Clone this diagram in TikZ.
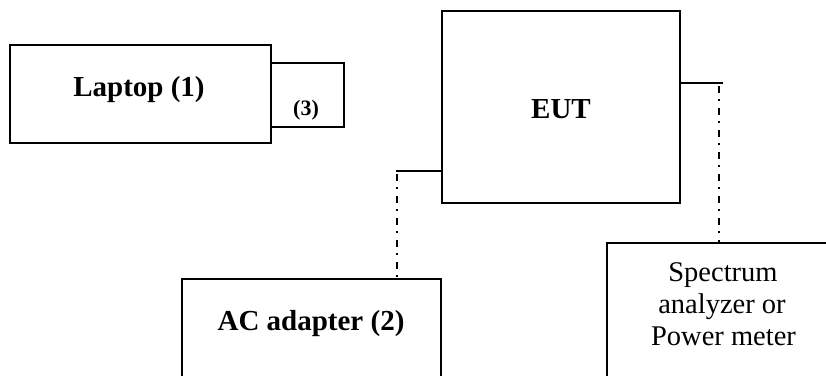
\documentclass[tikz,border=0pt]{standalone}
\usepackage{fontspec}
\setmainfont{Liberation Serif}
\begin{document}
\begin{tikzpicture}[x=1pt,y=-1pt,
  box/.style={draw,line width=1.8pt,rectangle,inner sep=0pt},
  lbl/.style={inner sep=0pt,anchor=base,font=\fontsize{29}{31}\selectfont\bfseries},
  small/.style={inner sep=0pt,anchor=base,font=\fontsize{22}{24}\selectfont\bfseries},
  plain/.style={inner sep=0pt,anchor=base,font=\fontsize{28.5}{31.5}\selectfont},
  wire/.style={line width=1.8pt},
  dashdot/.style={line width=1.8pt,dash pattern=on 7pt off 6pt on 2pt off 7pt}]
\useasboundingbox (0,0) rectangle (826,375);
\clip (0,0) rectangle (826,375);
% boxes
\node[box,minimum width=261pt,minimum height=98pt] (laptop) at (140.5,94) {};
\node[box,minimum width=73pt,minimum height=64pt] (dongle) at (307.5,95) {};
\node[box,minimum width=238pt,minimum height=192pt] (eut) at (561,107) {};
\node[box,minimum width=259pt,minimum height=121pt] (ac) at (311.5,339.5) {};
\node[box,minimum width=253pt,minimum height=157pt] (spec) at (733.5,321.5) {};
% texts
\node[lbl] (tlaptop) at (139,96) {Laptop (1)};
\node[small] (tdongle) at (306,115) {(3)};
\node[lbl] (teut) at (561,118) {EUT};
\node[lbl] (tac) at (311,330) {AC adapter (2)};
\node[plain] (ts1) at (723,281) {Spectrum};
\node[plain] (ts2) at (722,313) {analyzer or};
\node[plain] (ts3) at (723.5,345) {Power meter};
% connectors
\coordinate (c1) at (397,171);
\coordinate (c2) at (719,83);
\coordinate (c2e) at (723,83);
\draw[wire] (c1 -| eut.west) -- ([xshift=-0.9pt]c1);
\draw[dashdot] ([yshift=-3pt]c1) -- (c1 |- ac.north);
\draw[wire] (c2 -| eut.east) -- (c2e);
\draw[dashdot] ([yshift=-3pt]c2) -- (c2 |- spec.north);
\end{tikzpicture}
\end{document}
